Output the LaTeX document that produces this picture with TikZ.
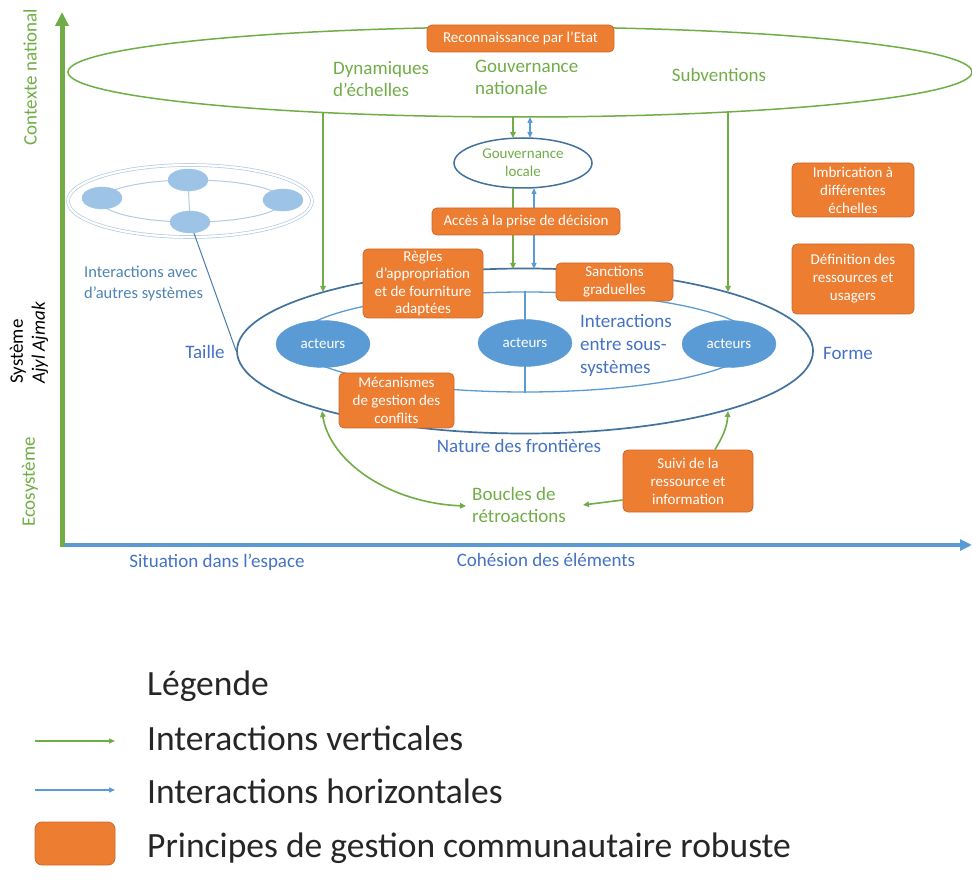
\documentclass[tikz,border=0pt]{standalone}
\usepackage{fontspec}
\setmainfont{Carlito}
\usetikzlibrary{arrows.meta,shapes.geometric,calc}
\definecolor{vert}{HTML}{70AD47}
\definecolor{bleu}{HTML}{5B9BD5}
\definecolor{bleuf}{HTML}{41719C}
\definecolor{bleut}{HTML}{4472C4}
\definecolor{bleuclair}{HTML}{9DC3E6}
\definecolor{pale}{HTML}{B4C9E4}
\definecolor{orng}{HTML}{ED7D31}
\definecolor{orngb}{HTML}{D0672A}
\definecolor{txtl}{HTML}{262626}
\newcommand{\fs}[2]{\fontsize{#1}{#2}\selectfont}
\begin{document}
\begin{tikzpicture}[x=1pt,y=-1pt,
  principe/.style={draw=orngb,fill=orng,rounded corners=5pt,text=white,font=\fs{15}{18},align=center,inner sep=0pt,line width=0.8pt},
  acteur/.style={ellipse,fill=bleu,draw=bleu,text=white,font=\fs{15}{18},minimum width=94pt,minimum height=47pt,inner sep=0pt},
  blob/.style={ellipse,fill=bleuclair,draw=bleuclair,minimum width=40pt,minimum height=22pt,inner sep=0pt},
  vfl/.style={vert,line width=1.6pt,-{Triangle[length=6pt,width=5.5pt]}},
  vfll/.style={vert,line width=1.6pt,{Triangle[length=6pt,width=5.5pt]}-{Triangle[length=6pt,width=5.5pt]}},
  hfl/.style={bleu,line width=1.3pt,{Triangle[length=6pt,width=5pt]}-{Triangle[length=6pt,width=5pt]}},
  vlab/.style={text=vert,font=\fs{19}{22},align=left,inner sep=0pt},
  blab/.style={text=bleut,font=\fs{19}{23},align=left,inner sep=0pt},
  leg/.style={text=txtl,font=\fs{35.5}{40},anchor=base west,inner sep=0pt}
]
\useasboundingbox (0,0) rectangle (972,882);

% axes
\coordinate (orig) at (62,547);
\coordinate (ytop) at (62,12);
\coordinate (xend) at (972,545);
\draw[bleu,line width=4pt,-{Triangle[length=12pt,width=11pt]}] (60,545) -- (xend);
\draw[vert,line width=5pt,-{Triangle[length=14pt,width=13pt]}] (orig) -- (ytop);

% axis labels
\node[rotate=90,text=vert,font=\fs{19}{22},inner sep=0pt] (ctx) at (30,77) {Contexte national};
\node[rotate=90,text=black,font=\fs{19}{22},inner sep=0pt,anchor=west] (sysl) at (18,384) {Système};
\node[rotate=90,text=black,font=\itshape\fs{19}{22},inner sep=0pt,anchor=west] (ajyl) at (40,384) {Ajyl Ajmak};
\node[rotate=90,text=vert,font=\fs{19}{22},inner sep=0pt] (eco) at (30,482) {Ecosystème};
\node[blab,align=center] (sit) at (217,562) {Situation dans l’espace};
\node[blab,align=center] (coh) at (546,560) {Cohésion des éléments};

% national ellipse
\node[ellipse,draw=vert,line width=1.5pt,minimum width=904pt,minimum height=90pt,inner sep=0pt] (nat) at (520,72) {};
\node[vlab,anchor=west] (dyn) at (333,79) {Dynamiques\\d’échelles};
\node[vlab,anchor=west] (gnat) at (475,77) {Gouvernance\\nationale};
\node[vlab] (sub) at (719,75) {Subventions};

% system ellipses
\node[ellipse,draw=bleuf,line width=1.7pt,minimum width=576pt,minimum height=165pt,inner sep=0pt] (sys) at (525,351) {};
\node[ellipse,draw=bleu,line width=1.3pt,minimum width=460pt,minimum height=100pt,inner sep=0pt] (inner) at (525,342) {};
\draw[bleu,line width=1.3pt] (inner.north) -- (inner.south);

% gouvernance locale
\node[ellipse,draw=bleuf,line width=1.5pt,minimum width=138pt,minimum height=50pt,inner sep=0pt,text=vert,font=\fs{15}{18},align=center] (gloc) at (523,163) {Gouvernance\\locale};

% coordinates for vertical connectors
\coordinate (n1) at (323,113);
\coordinate (s1) at (323,292);
\coordinate (n2) at (728,112);
\coordinate (s2) at (728,292);
\coordinate (n3) at (513,117);
\coordinate (g3) at (513,138);
\coordinate (n4) at (530,117);
\coordinate (g4) at (530,138);
\coordinate (g5) at (513,188);
\coordinate (s5) at (513,269);
\coordinate (g6) at (534,188);
\coordinate (s6) at (534,269);

\draw[vfl] (n1) -- (s1);
\draw[vfl] (n2) -- (s2);
\draw[vfl] (n3) -- (g3);
\draw[hfl] (n4) -- (g4);
\draw[vfl] (g5) -- (s5);
\draw[hfl] (g6) -- (s6);

% acteurs
\node[acteur] (a1) at (323,344) {acteurs};
\node[acteur] (a2) at (525,343) {acteurs};
\node[acteur] (a3) at (729,344) {acteurs};
\node[blab,align=left,anchor=west] (ies) at (580,345) {Interactions\\entre sous-\\systèmes};
\node[blab] (taille) at (205,352) {Taille};
\node[blab] (forme) at (848,353) {Forme};
\node[blab] (nat2) at (519,446) {Nature des frontières};

% other systems
\node[ellipse,draw=pale,line width=0.7pt,double=white,double distance=2.2pt,minimum width=244pt,minimum height=72pt,inner sep=0pt] (oth) at (190,201) {};
\node[ellipse,draw=pale,line width=1pt,minimum width=182pt,minimum height=42pt,inner sep=0pt] (othi) at (192,201) {};
\draw[pale,line width=1pt] (188,180) -- (190,222);
\node[blob] (b1) at (102,198) {};
\node[blob] (b2) at (188,180) {};
\node[blob] (b3) at (283,200) {};
\node[blob] (b4) at (190,222) {};
\draw[bleu!80!black,line width=1pt] (b4) -- (sys.west);
\node[text=bleu!85!black,font=\fs{16.5}{21},align=left,anchor=west,inner sep=0pt] (ias) at (84,284) {Interactions avec\\d’autres systèmes};

% principles boxes
\node[principe,minimum width=187pt,minimum height=27pt] (rec) at (520.5,38.5) {Reconnaissance par l’Etat};
\node[principe,minimum width=188pt,minimum height=27pt] (acc) at (526,221.5) {Accès à la prise de décision};
\node[principe,minimum width=120pt,minimum height=69pt,font=\fs{15}{17.5}] (reg) at (423,283.5) {Règles\\d’appropriation\\et de fourniture\\adaptées};
\node[principe,minimum width=117pt,minimum height=38pt] (san) at (614.5,282) {Sanctions\\graduelles};
\node[principe,minimum width=115pt,minimum height=55pt] (mec) at (396.5,400.5) {Mécanismes\\de gestion des\\conflits};
\node[principe,minimum width=130pt,minimum height=62pt] (sui) at (688,481) {Suivi de la\\ressource et\\information};
\node[principe,minimum width=122pt,minimum height=54pt] (imb) at (853,190) {Imbrication à\\différentes\\échelles};
\node[principe,minimum width=122pt,minimum height=70pt] (def) at (853,279) {Définition des\\ressources et\\usagers};

% feedback loops
\node[vlab,anchor=west] (bou) at (472,505) {Boucles de\\rétroactions};
\coordinate (f1) at (322,411);
\coordinate (f2) at (466,506);
\coordinate (f3) at (728,411);
\coordinate (f4) at (583,505);
\draw[vfll] (f1) .. controls (330,462) and (390,503) .. (f2);
\draw[vfl] (sui.north) ++(27,0) .. controls (722,438) and (727,428) .. (f3);
\draw[vfl] (sui.west) ++(0,19) -- (f4);

% legend
\node[leg] (lt) at (147,695) {Légende};
\node[leg] (l1) at (147,750) {Interactions verticales};
\node[leg] (l2) at (147,803) {Interactions horizontales};
\node[leg] (l3) at (147,857) {Principes de gestion communautaire robuste};
\coordinate (lv1) at (35,741);
\coordinate (lv2) at (115,741);
\coordinate (lh1) at (35,790);
\coordinate (lh2) at (115,790);
\draw[vert,line width=1.3pt,-{Triangle[length=6pt,width=5pt]}] (lv1) -- (lv2);
\draw[bleu,line width=1.3pt,-{Triangle[length=6pt,width=5pt]}] (lh1) -- (lh2);
\node[principe,minimum width=80pt,minimum height=43pt,rounded corners=7pt] (lsq) at (75,843.5) {};
\end{tikzpicture}
\end{document}
